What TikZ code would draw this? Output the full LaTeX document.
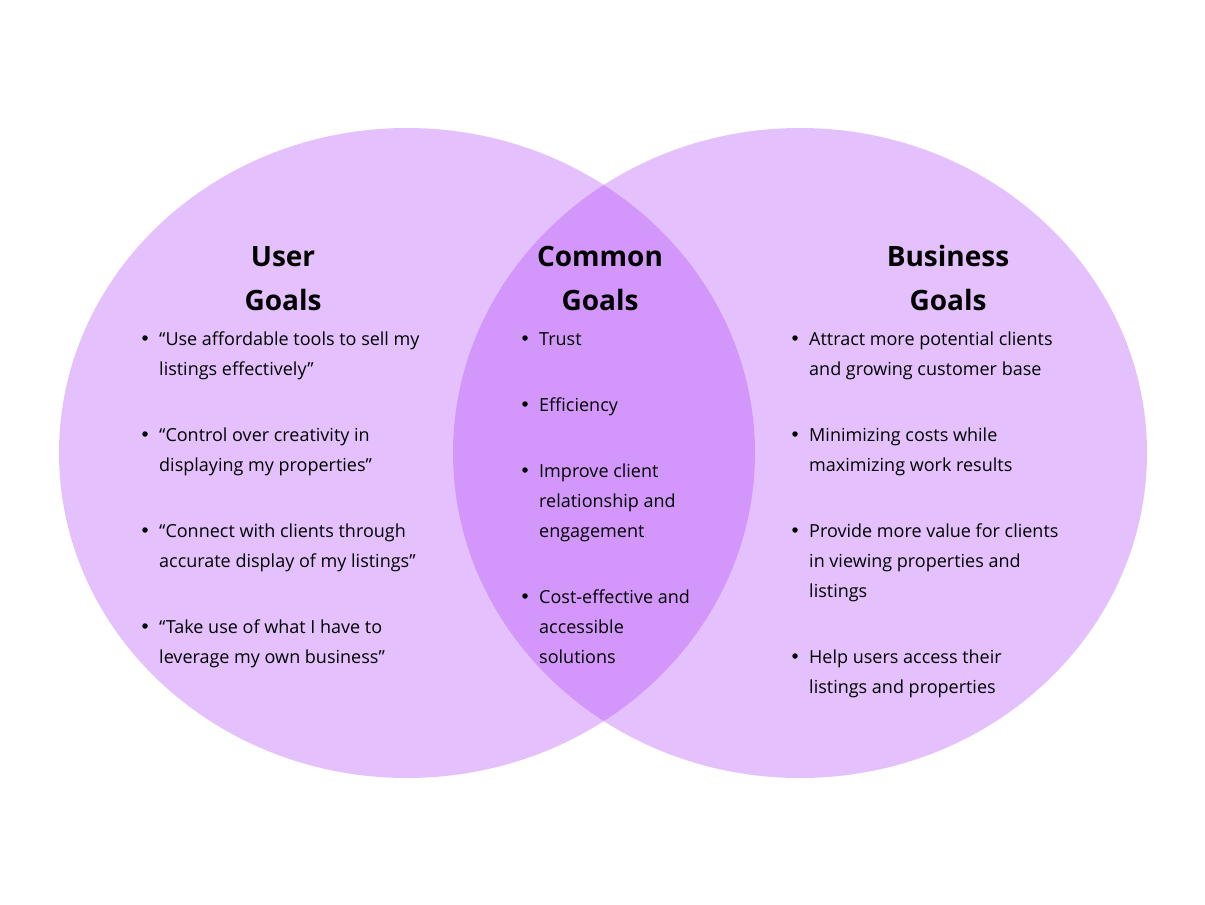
\documentclass[tikz,border=0pt]{standalone}
\usepackage{fontspec}
\setmainfont{Open Sans}
\usetikzlibrary{positioning}
\definecolor{lilac}{HTML}{E4C1FD}
\definecolor{lilacdeep}{HTML}{D397FC}

\begin{document}
\begin{tikzpicture}[x=1pt, y=-1pt,
  title/.style={font=\bfseries\fontsize{28}{44}\selectfont, align=center, anchor=base, inner sep=0pt},
  goal/.style={font=\fontsize{18}{30}\selectfont, align=left, anchor=base west, inner sep=0pt},
  dot/.style={circle, fill=black, inner sep=0pt, minimum size=5.5pt}
]
\useasboundingbox (0,0) rectangle (1205,905);
% the two circles and their overlap
\fill[lilac] (407,453) ellipse [x radius=348, y radius=325];
\fill[lilac] (800,453) ellipse [x radius=347, y radius=325];
\begin{scope}
  \clip (407,453) ellipse [x radius=348, y radius=325];
  \fill[lilacdeep] (800,453) ellipse [x radius=347, y radius=325];
\end{scope}

% titles (placed by the baseline of their last line)
\node[title] (user) at (283,310) {User\\Goals};
\node[title] (common) at (600,310) {Common\\Goals};
\node[title] (business) at (948,310) {Business\\Goals};

% user goals
\node[goal] (u1) at (159,375) {“Use affordable tools to sell my\\listings effectively”};
\node[goal] (u2) at (159,471) {“Control over creativity in\\displaying my properties”};
\node[goal] (u3) at (159,567) {“Connect with clients through\\accurate display of my listings”};
\node[goal] (u4) at (159,663) {“Take use of what I have to\\leverage my own business”};
\foreach \y in {338,434,530,626} \node[dot] at (145,\y) {};

% common goals
\node[goal] (c1) at (539,345) {Trust};
\node[goal] (c2) at (539,411) {Efficiency};
\node[goal] (c3) at (539,537) {Improve client\\relationship and\\engagement};
\node[goal] (c4) at (539,663) {Cost-effective and\\accessible\\solutions};
\foreach \y in {338,404,470,596} \node[dot] at (525,\y) {};

% business goals
\node[goal] (b1) at (809,375) {Attract more potential clients\\and growing customer base};
\node[goal] (b2) at (809,471) {Minimizing costs while\\maximizing work results};
\node[goal] (b3) at (809,597) {Provide more value for clients\\in viewing properties and\\listings};
\node[goal] (b4) at (809,693) {Help users access their\\listings and properties};
\foreach \y in {338,434,530,656} \node[dot] at (795,\y) {};
\end{tikzpicture}
\end{document}
